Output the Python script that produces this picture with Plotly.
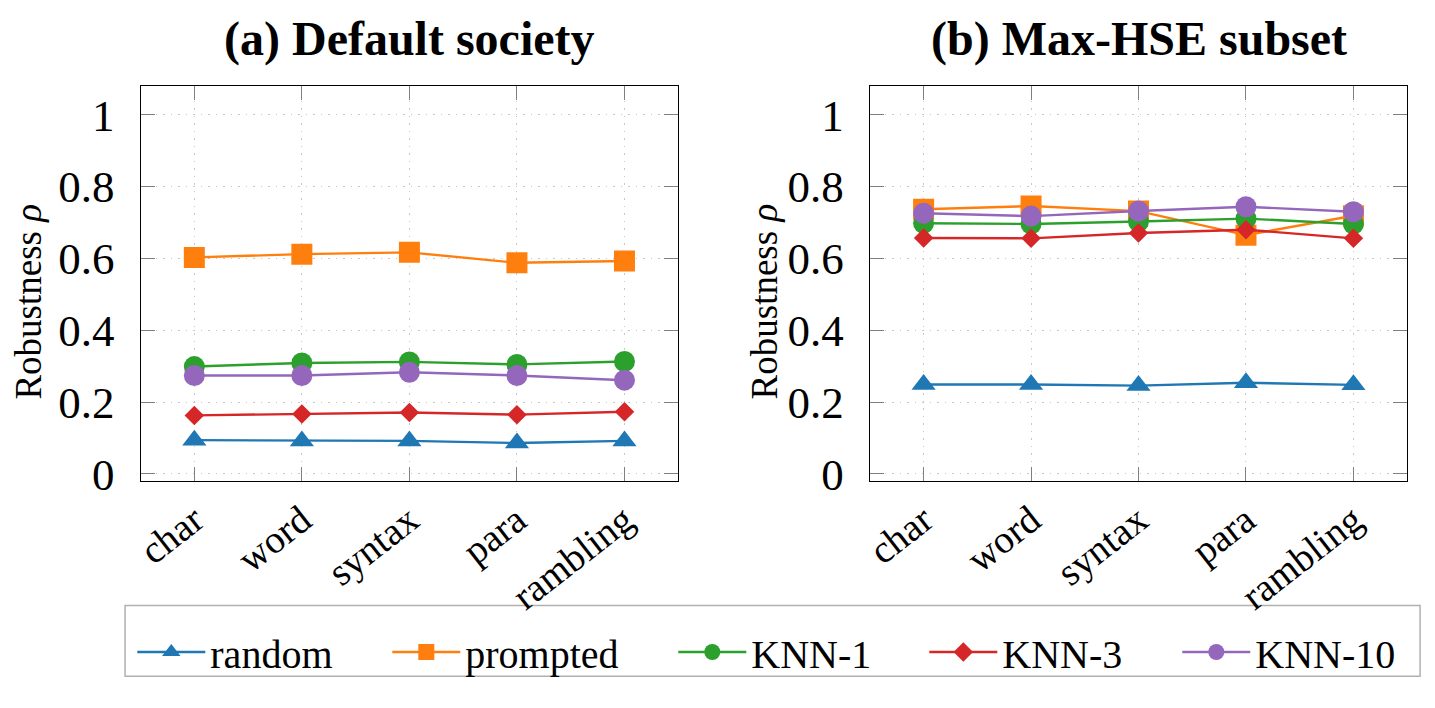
import plotly.graph_objects as go
from plotly.subplots import make_subplots

categories = ["char", "word", "syntax", "para", "rambling"]
series_names = ["random", "prompted", "KNN-1", "KNN-3", "KNN-10"]

# (a) Default society
a_random = [0.094, 0.092, 0.092, 0.086, 0.092]
a_prompted = [0.603, 0.612, 0.617, 0.588, 0.593]
a_knn1 = [0.299, 0.309, 0.312, 0.305, 0.313]
a_knn3 = [0.163, 0.167, 0.171, 0.165, 0.173]
a_knn10 = [0.274, 0.274, 0.283, 0.274, 0.261]

# (b) Max-HSE subset
b_random = [0.249, 0.249, 0.246, 0.254, 0.248]
b_prompted = [0.737, 0.746, 0.732, 0.665, 0.719]
b_knn1 = [0.698, 0.696, 0.703, 0.711, 0.696]
b_knn3 = [0.657, 0.656, 0.671, 0.680, 0.656]
b_knn10 = [0.726, 0.718, 0.732, 0.744, 0.730]

colors = ["#1f77b4", "#ff7f0e", "#2ca02c", "#d62728", "#9467bd"]
symbols = ["triangle-up", "square", "circle", "diamond", "circle"]
sizes = [21, 21, 21, 15, 21]
legend_widths = [172, 203, 168, 170, 160]

FONT = "'Liberation Serif', 'Times New Roman', Tinos, 'DejaVu Serif', serif"

fig = make_subplots(rows=1, cols=2)

panels = [
    [a_random, a_prompted, a_knn1, a_knn3, a_knn10],
    [b_random, b_prompted, b_knn1, b_knn3, b_knn10],
]

for p, data in enumerate(panels):
    for i, vals in enumerate(data):
        fig.add_trace(
            go.Scatter(
                x=categories,
                y=vals,
                mode="lines+markers",
                name=series_names[i],
                legendgroup=series_names[i],
                legendwidth=legend_widths[i],
                showlegend=(p == 0),
                line=dict(color=colors[i], width=2.4),
                marker=dict(symbol=symbols[i], size=sizes[i], color=colors[i],
                            line=dict(width=0)),
            ),
            row=1, col=p + 1,
        )

W, H = 1435, 708
xdom = [[133.3 / W, 674 / W], [866.7 / W, 1407 / W]]
ydom = [1 - 494 / H, 1 - 88.3 / H]

for k, ax in enumerate(["xaxis", "xaxis2"]):
    fig.layout[ax].update(
        domain=xdom[k], type="category", range=[-0.5, 4.5],
        showline=True, linecolor="black", linewidth=1.3, mirror="ticks",
        ticks="inside", ticklen=14, tickcolor="#808080", tickwidth=1.2,
        showgrid=True, gridcolor="#c8c8c8", griddash="1.5px,6px", gridwidth=1.2,
        tickangle=-38, tickfont=dict(family=FONT, size=39, color="black"),
        zeroline=False,
    )
for k, ax in enumerate(["yaxis", "yaxis2"]):
    fig.layout[ax].update(
        domain=ydom, range=[-0.019, 1.0805], tick0=0, dtick=0.2,
        showline=True, linecolor="black", linewidth=1.3, mirror="ticks",
        ticks="inside", ticklen=14, tickcolor="#808080", tickwidth=1.2,
        showgrid=True, gridcolor="#c8c8c8", griddash="1.5px,6px", gridwidth=1.2,
        tickfont=dict(family=FONT, size=45, color="black"),
        ticklabelstandoff=16,
        zeroline=False,
    )

annotations = [
    dict(text="<b>(a) Default society</b>", x=403.5 / W, y=1 - 40 / H,
         xref="paper", yref="paper", showarrow=False, xanchor="center", yanchor="middle",
         font=dict(family=FONT, size=48, color="black")),
    dict(text="<b>(b) Max-HSE subset</b>", x=1137 / W, y=1 - 40 / H,
         xref="paper", yref="paper", showarrow=False, xanchor="center", yanchor="middle",
         font=dict(family=FONT, size=48, color="black")),
    dict(text="Robustness <i>ρ</i>", x=21 / W, y=1 - 310 / H, textangle=-90,
         xref="paper", yref="paper", showarrow=False, xanchor="center", yanchor="middle",
         font=dict(family=FONT, size=37, color="black")),
    dict(text="Robustness <i>ρ</i>", x=761 / W, y=1 - 310 / H, textangle=-90,
         xref="paper", yref="paper", showarrow=False, xanchor="center", yanchor="middle",
         font=dict(family=FONT, size=37, color="black")),
]

shapes = [
    dict(type="rect", xref="paper", yref="paper",
         x0=117.7 / W, x1=1420 / W, y0=1 - 695 / H, y1=1 - 622.3 / H,
         line=dict(color="#b0b0b0", width=1.5), fillcolor="rgba(0,0,0,0)", layer="below"),
]

fig.update_layout(
    width=W, height=H,
    margin=dict(l=0, r=0, t=0, b=0),
    paper_bgcolor="white", plot_bgcolor="white",
    annotations=annotations,
    shapes=shapes,
    showlegend=True,
    legend=dict(
        orientation="h", x=125 / W, y=1 - 670 / H, xanchor="left", yanchor="middle",
        borderwidth=0, bgcolor="rgba(0,0,0,0)",
        font=dict(family=FONT, size=40, color="black"),
        itemwidth=68, traceorder="normal",
    ),
)

fig.write_html("out.html")
